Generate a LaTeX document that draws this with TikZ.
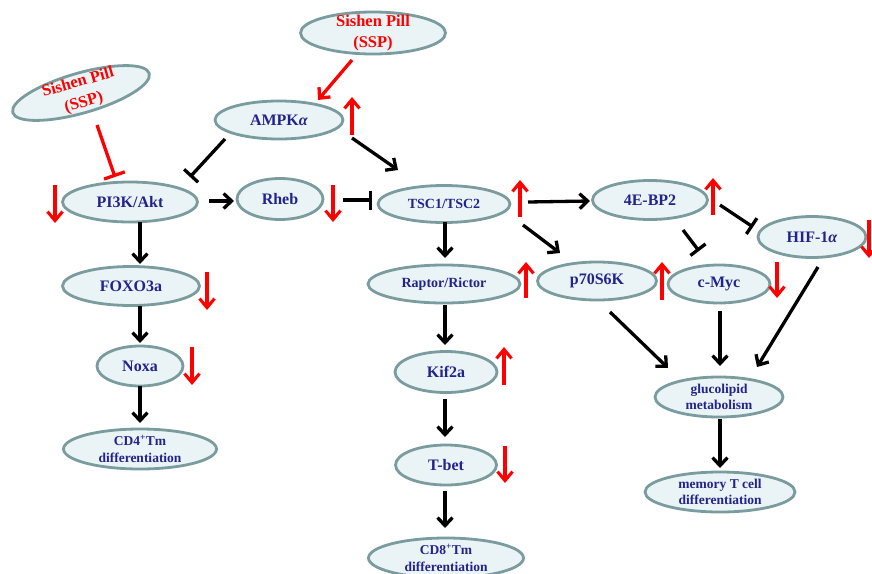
\documentclass[tikz,border=0pt]{standalone}
\usepackage{fontspec}
\setmainfont{Liberation Serif}
\usetikzlibrary{shapes.geometric,arrows.meta,calc}
\definecolor{nodefill}{RGB}{234,244,246}
\definecolor{nodeline}{RGB}{122,156,158}
\definecolor{navy}{RGB}{35,35,140}
\definecolor{ared}{RGB}{255,0,0}
\begin{document}
\begin{tikzpicture}[x=1pt,y=-1pt,
 bio/.style={ellipse, draw=nodeline, fill=nodefill, line width=2.8pt, inner sep=0pt},
 txt/.style={text=navy, font=\bfseries\fontsize{16}{19}\selectfont, align=center, inner sep=0pt},
 mtxt/.style={text=navy, font=\bfseries\fontsize{14}{17}\selectfont, align=center, inner sep=0pt},
 stxt/.style={text=navy, font=\bfseries\fontsize{13.5}{16.5}\selectfont, align=center, inner sep=0pt},
 rtxt/.style={text=ared, font=\bfseries\fontsize{16.5}{21}\selectfont, align=center, inner sep=0pt},
 act/.style={line width=3.3pt, -{Straight Barb[length=8pt,width=15pt]}},
 inh/.style={line width=3.3pt, -{Bar[width=19pt]}},
 ract/.style={draw=ared, line width=3.3pt, -{Straight Barb[length=8pt,width=15pt]}},
 rinh/.style={draw=ared, line width=3.3pt, -{Bar[width=22pt]}},
 updown/.style={draw=ared, line width=3.1pt, -{Straight Barb[length=9pt,width=15pt]}},
]
\useasboundingbox (0,0) rectangle (872,573);
\clip (0,0) rectangle (872,573);

% ---- nodes ----
\node[bio, minimum width=145pt, minimum height=42pt] (ssptop) at (373,33) {};
\node[rtxt] (ssptop-t) at (ssptop) {Sishen Pill\\(SSP)};
\node[bio, minimum width=142pt, minimum height=40pt, rotate=16] (sspl) at (81,93) {};
\node[rtxt, rotate=16] (sspl-t) at (sspl) {Sishen Pill\\(SSP)};

\node[bio, minimum width=128pt, minimum height=38pt] (ampk) at (279,120) {};
\node[txt] (ampk-t) at (ampk) {AMPK\textit{α}};
\node[bio, minimum width=135pt, minimum height=40pt] (pi3k) at (130,202) {};
\node[txt] (pi3k-t) at (pi3k) {PI3K/Akt};
\node[bio, minimum width=86pt, minimum height=41pt] (rheb) at (280,199) {};
\node[txt] (rheb-t) at (rheb) {Rheb};
\node[bio, minimum width=132pt, minimum height=37pt] (tsc) at (444,204) {};
\node[mtxt] (tsc-t) at (tsc) {TSC1/TSC2};
\node[bio, minimum width=115pt, minimum height=39pt] (ebp) at (650,200) {};
\node[txt] (ebp-t) at (ebp) {4E-BP2};
\node[bio, minimum width=108pt, minimum height=41pt] (hif) at (812,237) {};
\node[txt] (hif-t) at (hif) {HIF-1\textit{α}};

\node[bio, minimum width=137pt, minimum height=39pt] (foxo) at (131,286) {};
\node[txt] (foxo-t) at (foxo) {FOXO3a};
\node[bio, minimum width=86pt, minimum height=40pt] (noxa) at (140,366) {};
\node[txt] (noxa-t) at (noxa) {Noxa};
\node[bio, minimum width=153pt, minimum height=40pt] (cd4) at (140,449) {};
\node[stxt] (cd4-t) at (cd4) {CD4\textsuperscript{+}Tm\\differentiation};

\node[bio, minimum width=152pt, minimum height=38pt] (raptor) at (444,284) {};
\node[mtxt] (raptor-t) at (raptor) {Raptor/Rictor};
\node[bio, minimum width=102pt, minimum height=41pt] (kif) at (446,372) {};
\node[txt] (kif-t) at (kif) {Kif2a};
\node[bio, minimum width=101pt, minimum height=40pt] (tbet) at (446,465) {};
\node[txt] (tbet-t) at (tbet) {T-bet};
\node[bio, minimum width=155pt, minimum height=40pt] (cd8) at (446,558) {};
\node[stxt] (cd8-t) at (cd8) {CD8\textsuperscript{+}Tm\\differentiation};

\node[bio, minimum width=119pt, minimum height=38pt] (p70) at (597,281) {};
\node[txt] (p70-t) at (p70) {p70S6K};
\node[bio, minimum width=102pt, minimum height=38pt] (cmyc) at (719,284) {};
\node[txt] (cmyc-t) at (cmyc) {c-Myc};
\node[bio, minimum width=128pt, minimum height=40pt] (gluco) at (719,397) {};
\node[stxt] (gluco-t) at (gluco) {glucolipid\\metabolism};
\node[bio, minimum width=150pt, minimum height=40pt] (mem) at (720,492) {};
\node[stxt] (mem-t) at (mem) {memory T cell\\differentiation};

% ---- connectors ----
\draw[ract] ($(ssptop)+(-21,27)$) -- ($(ampk)+(39,-20)$);
\draw[rinh] ($(sspl)+(16,32)$) -- ($(pi3k)+(-15,-25)$);
\draw[inh] ($(ampk)+(-54,19)$) -- ($(pi3k)+(60,-25)$);
\draw[act] ($(ampk)+(73,18)$) -- ($(tsc)+(-46,-34)$);
\draw[act] ($(pi3k)+(79,-1)$) -- ($(rheb)+(-46,2)$);
\draw[inh] ($(rheb)+(63,1)$) -- ($(tsc)+(-72,-4)$);
\draw[act] ($(tsc)+(84,-2)$) -- ($(ebp)+(-60,1)$);
\draw[act] ($(tsc)+(79,21)$) -- ($(p70)+(-37,-28)$);
\draw[inh] ($(ebp)+(70,5)$) -- ($(hif)+(-59,-10)$);
\draw[inh] ($(ebp)+(33,30)$) -- ($(cmyc)+(-20,-33)$);

\draw[act] ($(pi3k)+(10,20)$) -- ($(foxo)+(9,-22)$);
\draw[act] ($(foxo)+(9,20)$) -- ($(noxa)+(0,-23)$);
\draw[act] ($(noxa)+(0,20)$) -- ($(cd4)+(0,-26)$);

\draw[act] ($(tsc)+(1,18)$) -- ($(raptor)+(1,-26)$);
\draw[act] ($(raptor)+(1,21)$) -- ($(kif)+(-1,-27)$);
\draw[act] ($(kif)+(-1,27)$) -- ($(tbet)+(-1,-28)$);
\draw[act] ($(tbet)+(-1,26)$) -- ($(cd8)+(-1,-30)$);

\draw[act] ($(p70)+(13,31)$) -- ($(gluco)+(-51,-29)$);
\draw[act] ($(cmyc)+(1,27)$) -- ($(gluco)+(1,-31)$);
\draw[act] ($(hif)+(6,30)$) -- ($(gluco)+(38,-30)$);
\draw[act] ($(gluco)+(1,22)$) -- ($(mem)+(0,-24)$);

% ---- red up/down markers ----
\coordinate (m1a) at (352,135); \coordinate (m1b) at (352,97);
\draw[updown] (m1a) -- (m1b);
\coordinate (m2a) at (55,185); \coordinate (m2b) at (55,223);
\draw[updown] (m2a) -- (m2b);
\coordinate (m3a) at (333,185); \coordinate (m3b) at (333,222);
\draw[updown] (m3a) -- (m3b);
\coordinate (m4a) at (520,217); \coordinate (m4b) at (520,180);
\draw[updown] (m4a) -- (m4b);
\coordinate (m5a) at (713,215); \coordinate (m5b) at (713,178);
\draw[updown] (m5a) -- (m5b);
\coordinate (m6a) at (869,220); \coordinate (m6b) at (869,258);
\draw[updown] (m6a) -- (m6b);
\coordinate (m7a) at (526,298); \coordinate (m7b) at (526,262);
\draw[updown] (m7a) -- (m7b);
\coordinate (m8a) at (662,300); \coordinate (m8b) at (662,262);
\draw[updown] (m8a) -- (m8b);
\coordinate (m9a) at (777,262); \coordinate (m9b) at (777,298);
\draw[updown] (m9a) -- (m9b);
\coordinate (m10a) at (207,272); \coordinate (m10b) at (207,310);
\draw[updown] (m10a) -- (m10b);
\coordinate (m11a) at (192,347); \coordinate (m11b) at (192,385);
\draw[updown] (m11a) -- (m11b);
\coordinate (m12a) at (504,385); \coordinate (m12b) at (504,347);
\draw[updown] (m12a) -- (m12b);
\coordinate (m13a) at (505,446); \coordinate (m13b) at (505,483);
\draw[updown] (m13a) -- (m13b);
\end{tikzpicture}
\end{document}
